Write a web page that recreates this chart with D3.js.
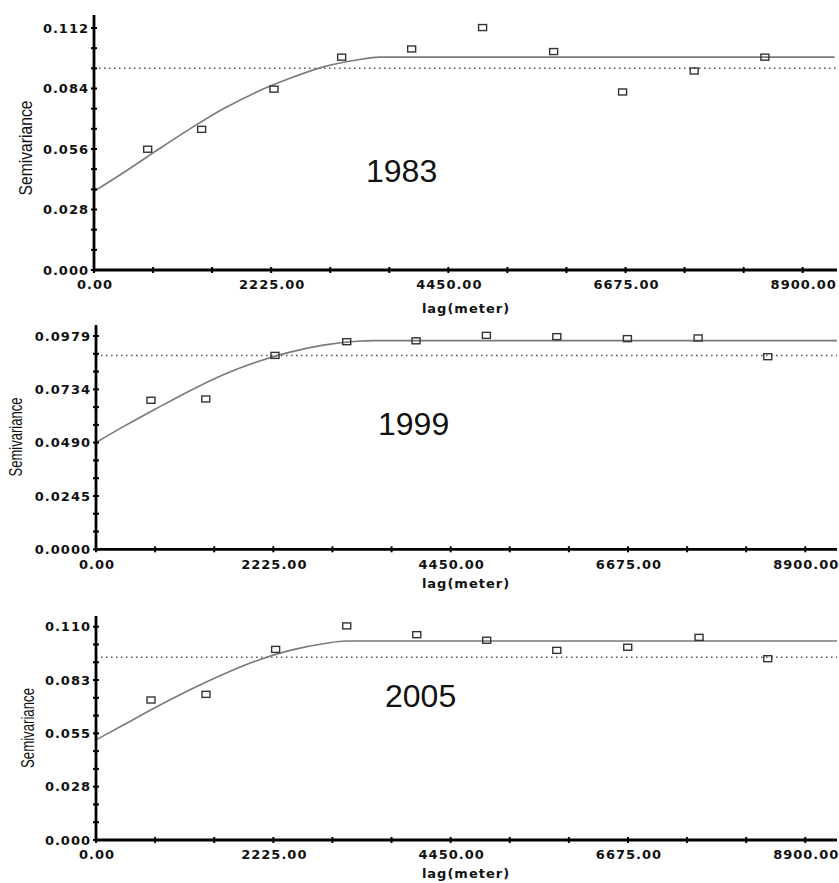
<!DOCTYPE html>
<html>
<head>
<meta charset="utf-8">
<script src="https://cdn.jsdelivr.net/npm/d3@7"></script>
<style>
body { margin: 0; background: #fff; }
.tl { font-family: "DejaVu Sans", Verdana, sans-serif; font-weight: bold; font-size: 13px; letter-spacing: 1px; fill: #111; }
.yr { font-family: "Liberation Sans", Arial, sans-serif; font-size: 32px; fill: #111; }
.sv { font-family: "Liberation Sans Narrow", "Liberation Sans", Arial, sans-serif; font-size: 19px; fill: #111; }
</style>
</head>
<body>
<script>
// semivariogram values (lag in metres)
var lags1983 = [674, 1352, 2260, 3110, 3989, 4880, 5772, 6638, 7537, 8425];
var gamma1983 = [0.0559, 0.0651, 0.0837, 0.0985, 0.1023, 0.1122, 0.1011, 0.0824, 0.0921, 0.0985];
var modelLag1983 = [0, 368, 787, 1205, 1624, 2043, 2461, 2880, 3298, 3591, 9300];
var model1983 = [0.0364, 0.0450, 0.0553, 0.0653, 0.0746, 0.0824, 0.0887, 0.0940, 0.0972, 0.0985, 0.0985];
var variance1983 = 0.0934;

var lags1999 = [690, 1377, 2246, 3146, 4016, 4898, 5782, 6668, 7555, 8429];
var gamma1999 = [0.0684, 0.0690, 0.0890, 0.0953, 0.0957, 0.0982, 0.0976, 0.0967, 0.0970, 0.0884];
var modelLag1999 = [0, 343, 762, 1180, 1598, 2016, 2435, 2853, 3272, 3480, 9300];
var model1999 = [0.0490, 0.0563, 0.0647, 0.0728, 0.0801, 0.0860, 0.0905, 0.0937, 0.0955, 0.0958, 0.0958];
var variance1999 = 0.0889;

var lags2005 = [690, 1380, 2254, 3146, 4025, 4902, 5782, 6672, 7567, 8429];
var gamma2005 = [0.0722, 0.0751, 0.0983, 0.1104, 0.1059, 0.1030, 0.0978, 0.0994, 0.1045, 0.0935];
var modelLag2005 = [0, 343, 762, 1180, 1598, 2016, 2435, 2853, 3146, 9300];
var model2005 = [0.0516, 0.0593, 0.0687, 0.0775, 0.0855, 0.0925, 0.0978, 0.1012, 0.1026, 0.1026];
var variance2005 = 0.0942;

var xTicks = [0, 2225, 4450, 6675, 8900];
var xTickLabels = ["0.00", "2225.00", "4450.00", "6675.00", "8900.00"];
var yTicks1983 = [0, 0.028, 0.056, 0.084, 0.112];
var yLabels1983 = ["0.000", "0.028", "0.056", "0.084", "0.112"];
var yTicks1999 = [0, 0.024475, 0.04895, 0.073425, 0.0979];
var yLabels1999 = ["0.0000", "0.0245", "0.0490", "0.0734", "0.0979"];
var yTicks2005 = [0, 0.0275, 0.055, 0.0825, 0.110];
var yLabels2005 = ["0.000", "0.028", "0.055", "0.083", "0.110"];

var W = 839, H = 883, right = 837;

// layout of the three stacked panels
var panels = [
  {year: "1983", lags: lags1983, gamma: gamma1983, mLag: modelLag1983, m: model1983, v: variance1983,
   yT: yTicks1983, yL: yLabels1983, left: 94, x8900: 802.7, bottom: 270, topTick: 28, axisTop: 15,
   yrX: 366, yrY: 181.5, svX: 25, svY: 148, svLen: 95, lagY: 308},
  {year: "1999", lags: lags1999, gamma: gamma1999, mLag: modelLag1999, m: model1999, v: variance1999,
   yT: yTicks1999, yL: yLabels1999, left: 96, x8900: 805.3, bottom: 549.3, topTick: 336, axisTop: 325,
   yrX: 378, yrY: 435, svX: 15, svY: 437, svLen: 79, lagY: 583},
  {year: "2005", lags: lags2005, gamma: gamma2005, mLag: modelLag2005, m: model2005, v: variance2005,
   yT: yTicks2005, yL: yLabels2005, left: 96, x8900: 805.3, bottom: 840, topTick: 626.7, axisTop: 616,
   yrX: 385, yrY: 707, svX: 27, svY: 728, svLen: 80, lagY: 873}
];

var svg = d3.select("body").append("svg")
    .attr("width", W)
    .attr("height", H);

panels.forEach(function (p) {
  var x = d3.scaleLinear().domain([0, 8900]).range([p.left, p.x8900]);
  var yMax = p.yT[p.yT.length - 1];
  var y = d3.scaleLinear().domain([0, yMax]).range([p.bottom, p.topTick]);
  var g = svg.append("g");

  // sample variance (dotted)
  g.append("line")
    .attr("x1", p.left).attr("x2", right)
    .attr("y1", y(p.v)).attr("y2", y(p.v))
    .attr("stroke", "#555").attr("stroke-width", 1.5)
    .attr("stroke-dasharray", "1.5,3.5");

  // fitted model
  var mData = p.mLag.map(function (d, i) { return [d, p.m[i]]; });
  g.append("path")
    .datum(mData)
    .attr("fill", "none").attr("stroke", "#7a7a7a").attr("stroke-width", 1.6)
    .attr("d", d3.line()
      .x(function (d) { return Math.min(x(d[0]), right); })
      .y(function (d) { return y(d[1]); })
      .curve(d3.curveMonotoneX));

  // empirical points
  var pts = p.lags.map(function (d, i) { return [d, p.gamma[i]]; });
  g.selectAll(".pt").data(pts).enter().append("rect")
    .attr("class", "pt")
    .attr("x", function (d) { return x(d[0]) - 4; })
    .attr("y", function (d) { return y(d[1]) - 3; })
    .attr("width", 8).attr("height", 6)
    .attr("fill", "none").attr("stroke", "#333").attr("stroke-width", 1.4);

  // axes
  var xMinor = d3.range(0, 8901, 2225 / 3);
  var yStep = p.yT[1] / 3;
  var yMinor = d3.range(0, yMax + yStep / 2, yStep);

  var xa = g.append("g").attr("transform", "translate(0," + p.bottom + ")")
    .call(d3.axisBottom(x).tickValues(xTicks).tickFormat(function (d, i) { return xTickLabels[i]; }).tickSize(0).tickPadding(10));
  xa.select(".domain").remove();
  xa.selectAll("text").attr("class", "tl").attr("dx", "0.5px").attr("font-size", null).attr("font-family", null);

  var ya = g.append("g").attr("transform", "translate(" + p.left + ",0)")
    .call(d3.axisLeft(y).tickValues(p.yT).tickFormat(function (d, i) { return p.yL[i]; }).tickSize(0).tickPadding(5));
  ya.select(".domain").remove();
  ya.selectAll("text").attr("class", "tl").attr("font-size", null).attr("font-family", null);

  g.selectAll(".xm").data(xMinor).enter().append("line")
    .attr("x1", function (d) { return x(d); }).attr("x2", function (d) { return x(d); })
    .attr("y1", p.bottom - 3).attr("y2", p.bottom + 3)
    .attr("stroke", "#000").attr("stroke-width", 2);
  g.selectAll(".ym").data(yMinor).enter().append("line")
    .attr("y1", function (d) { return y(d); }).attr("y2", function (d) { return y(d); })
    .attr("x1", p.left - 3).attr("x2", p.left + 3)
    .attr("stroke", "#000").attr("stroke-width", 2);

  g.append("line").attr("x1", p.left).attr("x2", right).attr("y1", p.bottom).attr("y2", p.bottom)
    .attr("stroke", "#000").attr("stroke-width", 2.8);
  g.append("line").attr("x1", p.left).attr("x2", p.left).attr("y1", p.bottom + 1.4).attr("y2", p.axisTop)
    .attr("stroke", "#000").attr("stroke-width", 2.8);

  // labels
  g.append("text").attr("class", "tl")
    .attr("x", 466).attr("y", p.lagY).attr("dy", "0.35em")
    .attr("text-anchor", "middle").text("lag(meter)");
  g.append("text").attr("class", "sv")
    .attr("transform", "translate(" + p.svX + "," + p.svY + ") rotate(-90)")
    .attr("dy", "0.35em").attr("text-anchor", "middle")
    .attr("textLength", p.svLen).attr("lengthAdjust", "spacingAndGlyphs")
    .text("Semivariance");
  g.append("text").attr("class", "yr")
    .attr("x", p.yrX).attr("y", p.yrY).text(p.year);
});
</script>
</body>
</html>
